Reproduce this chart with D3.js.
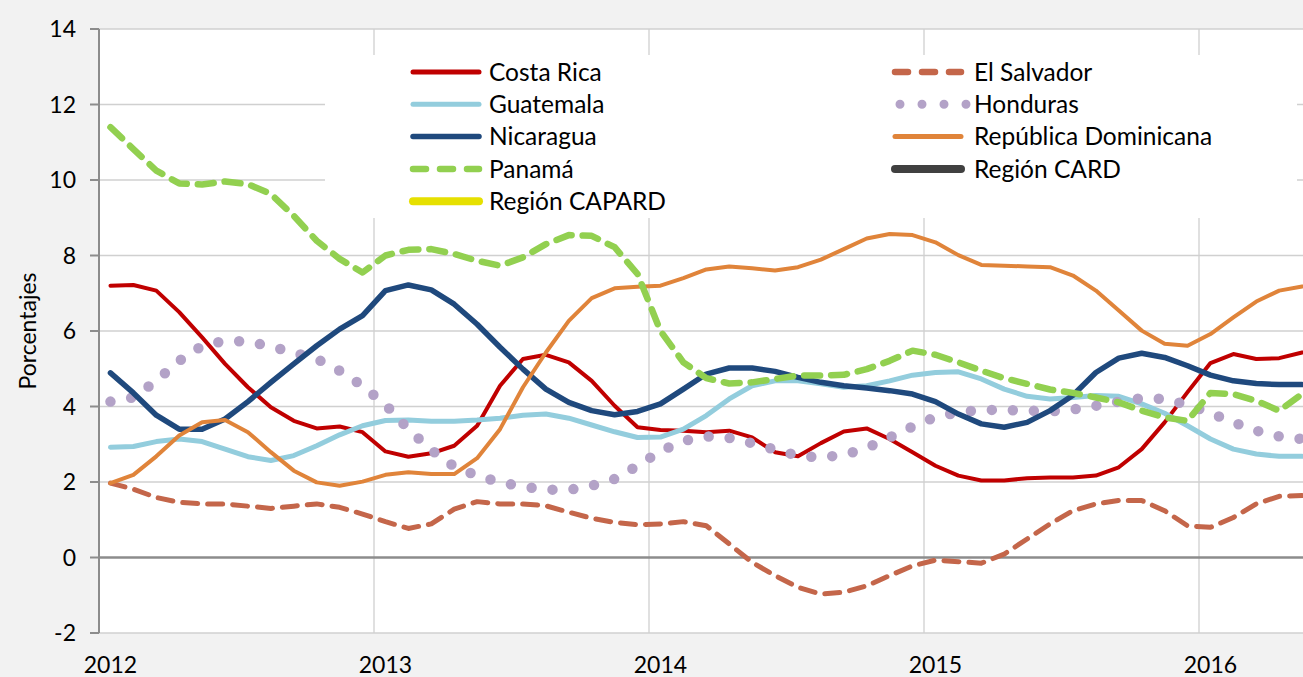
<!DOCTYPE html>
<html>
<head>
<meta charset="utf-8">
<script src="https://cdn.jsdelivr.net/npm/d3@7"></script>
<style>
  html, body { margin: 0; padding: 0; background: #f2f2f2; overflow: hidden; }
  svg { display: block; font-family: Lato, "Open Sans", sans-serif; }
</style>
</head>
<body>
<svg id="chart" width="1303" height="677"></svg>
<script>
// categorias mensuales (ene 2012 - may 2016)
const months = d3.timeMonths(new Date(2012, 0, 1), new Date(2016, 5, 1));
const yearLabels = ["2012", "2013", "2014", "2015", "2016"];
const yTicks = [-2, 0, 2, 4, 6, 8, 10, 12, 14];

const costaRica = [7.20, 7.22, 7.07, 6.50, 5.83, 5.13, 4.51, 3.98, 3.62, 3.42, 3.47, 3.32, 2.81,
  2.67, 2.76, 2.96, 3.49, 4.55, 5.26, 5.37, 5.17, 4.68, 4.02, 3.45,
  3.38, 3.36, 3.32, 3.36, 3.18, 2.79, 2.68, 3.03, 3.34, 3.42, 3.14, 2.79,
  2.43, 2.17, 2.04, 2.04, 2.10, 2.12, 2.12, 2.17, 2.39, 2.87, 3.58, 4.38,
  5.15, 5.39, 5.26, 5.28, 5.43];
const elSalvador = [1.97, 1.81, 1.59, 1.46, 1.42, 1.42, 1.36, 1.30, 1.36, 1.42, 1.33, 1.15, 0.95,
  0.77, 0.89, 1.28, 1.48, 1.42, 1.42, 1.37, 1.20, 1.04, 0.93, 0.87,
  0.89, 0.95, 0.84, 0.36, -0.13, -0.48, -0.79, -0.97, -0.92, -0.75, -0.48, -0.22,
  -0.07, -0.11, -0.15, 0.09, 0.49, 0.89, 1.24, 1.42, 1.51, 1.51, 1.24, 0.84,
  0.80, 1.06, 1.42, 1.62, 1.64];
const guatemala = [2.92, 2.94, 3.07, 3.14, 3.07, 2.87, 2.67, 2.57, 2.70, 2.96, 3.25, 3.49, 3.63,
  3.64, 3.61, 3.61, 3.64, 3.69, 3.77, 3.80, 3.69, 3.51, 3.33, 3.18,
  3.19, 3.40, 3.76, 4.20, 4.55, 4.68, 4.68, 4.60, 4.51, 4.55, 4.68, 4.83,
  4.90, 4.92, 4.73, 4.46, 4.27, 4.20, 4.24, 4.29, 4.27, 4.07, 3.82, 3.49,
  3.14, 2.87, 2.74, 2.68, 2.68];
const honduras = [4.13, 4.24, 4.68, 5.21, 5.61, 5.74, 5.72, 5.59, 5.43, 5.26, 4.95, 4.55, 4.05,
  3.40, 2.85, 2.41, 2.17, 1.99, 1.88, 1.80, 1.79, 1.90, 2.08, 2.43,
  2.82, 3.09, 3.21, 3.17, 3.03, 2.86, 2.70, 2.65, 2.72, 2.90, 3.18, 3.47,
  3.72, 3.85, 3.91, 3.91, 3.89, 3.87, 3.92, 4.02, 4.13, 4.22, 4.20, 4.04,
  3.83, 3.58, 3.36, 3.21, 3.14];
const nicaragua = [4.89, 4.36, 3.77, 3.40, 3.40, 3.67, 4.13, 4.64, 5.13, 5.61, 6.05, 6.41, 7.07,
  7.22, 7.09, 6.71, 6.18, 5.57, 4.99, 4.46, 4.11, 3.89, 3.78, 3.87,
  4.07, 4.46, 4.86, 5.02, 5.02, 4.93, 4.77, 4.64, 4.55, 4.49, 4.42, 4.33,
  4.13, 3.80, 3.54, 3.45, 3.58, 3.89, 4.30, 4.90, 5.28, 5.41, 5.30, 5.08,
  4.83, 4.68, 4.61, 4.58, 4.58];
const repDominicana = [1.97, 2.19, 2.68, 3.23, 3.58, 3.64, 3.32, 2.79, 2.30, 1.99, 1.90, 2.01, 2.19,
  2.26, 2.21, 2.21, 2.63, 3.40, 4.51, 5.43, 6.27, 6.87, 7.13, 7.17,
  7.20, 7.40, 7.63, 7.71, 7.66, 7.60, 7.69, 7.89, 8.17, 8.45, 8.57, 8.54,
  8.35, 8.01, 7.75, 7.73, 7.71, 7.69, 7.47, 7.07, 6.54, 6.01, 5.66, 5.61,
  5.92, 6.36, 6.78, 7.07, 7.18];
const panama = [11.40, 10.82, 10.25, 9.91, 9.88, 9.96, 9.89, 9.63, 9.05, 8.39, 7.91, 7.55, 8.00,
  8.15, 8.17, 8.04, 7.86, 7.73, 7.95, 8.30, 8.54, 8.52, 8.22, 7.51,
  6.00, 5.17, 4.75, 4.61, 4.64, 4.73, 4.82, 4.82, 4.84, 4.99, 5.21, 5.48,
  5.37, 5.17, 4.95, 4.75, 4.60, 4.45, 4.36, 4.24, 4.11, 3.89, 3.71, 3.62,
  4.36, 4.33, 4.15, 3.89, 4.33];
// sin datos visibles en el grafico, solo leyenda
const regionCARD = [];
const regionCAPARD = [];

const series = [
  { name: "Costa Rica", values: costaRica, color: "#c00000", width: 4, dash: null, col: 0, row: 0 },
  { name: "El Salvador", values: elSalvador, color: "#c4664a", width: 5, dash: "15 10", col: 1, row: 0 },
  { name: "Guatemala", values: guatemala, color: "#93cddd", width: 5, dash: null, col: 0, row: 1 },
  { name: "Honduras", values: honduras, color: "#b3a2c7", width: 10.5, dash: "0 21", col: 1, row: 1 },
  { name: "Nicaragua", values: nicaragua, color: "#1f497d", width: 5.5, dash: null, col: 0, row: 2 },
  { name: "República Dominicana", values: repDominicana, color: "#e0843a", width: 4, dash: null, col: 1, row: 2 },
  { name: "Panamá", values: panama, color: "#92d050", width: 6.5, dash: "16 11", col: 0, row: 3 },
  { name: "Región CARD", values: regionCARD, color: "#404040", width: 8, dash: null, col: 1, row: 3 },
  { name: "Región CAPARD", values: regionCAPARD, color: "#e6e000", width: 8, dash: null, col: 0, row: 4 },
];

const svg = d3.select("#chart");
const plotLeft = 99, plotTop = 29, plotBottom = 633;
const monthW = 275 / 12;

const x = d3.scaleBand()
  .domain(months)
  .range([plotLeft, plotLeft + months.length * monthW])
  .paddingInner(0)
  .paddingOuter(0);
const y = d3.scaleLinear().domain([-2, 14]).range([plotBottom, plotTop]);
const cx = (d) => x(d) + x.bandwidth() / 2;

// area del grafico
svg.append("rect")
  .attr("x", plotLeft).attr("y", plotTop)
  .attr("width", 1303 - plotLeft).attr("height", plotBottom - plotTop)
  .attr("fill", "#fff");

// lineas de cuadricula horizontales
svg.append("g")
  .selectAll("line")
  .data(yTicks.filter((t) => t !== 0))
  .join("line")
  .attr("x1", plotLeft).attr("x2", 1303)
  .attr("y1", (d) => y(d)).attr("y2", (d) => y(d))
  .attr("stroke", "#d0d0d0").attr("stroke-width", 1.3);

// lineas verticales en cada enero
const januaries = months.filter((m) => m.getMonth() === 0);
svg.append("g")
  .selectAll("line")
  .data(januaries.slice(1))
  .join("line")
  .attr("x1", (d) => x(d)).attr("x2", (d) => x(d))
  .attr("y1", plotTop).attr("y2", plotBottom)
  .attr("stroke", "#d0d0d0").attr("stroke-width", 1.3);

// recuadro blanco de la leyenda (tapa la cuadricula)
svg.append("rect")
  .attr("x", 325).attr("y", 55)
  .attr("width", 972).attr("height", 163)
  .attr("fill", "#fff");

// linea del cero
svg.append("line")
  .attr("x1", plotLeft).attr("x2", 1303)
  .attr("y1", y(0)).attr("y2", y(0))
  .attr("stroke", "#8c8c8c").attr("stroke-width", 2.5);

// eje y
const yAxis = svg.append("g");
yAxis.append("line")
  .attr("x1", plotLeft).attr("x2", plotLeft)
  .attr("y1", plotTop).attr("y2", plotBottom)
  .attr("stroke", "#8c8c8c").attr("stroke-width", 2);
yAxis.selectAll(".tick")
  .data(yTicks)
  .join("line")
  .attr("class", "tick")
  .attr("x1", 90).attr("x2", plotLeft)
  .attr("y1", (d) => y(d)).attr("y2", (d) => y(d))
  .attr("stroke", "#8c8c8c").attr("stroke-width", 2);
yAxis.selectAll("text")
  .data(yTicks)
  .join("text")
  .attr("x", 76)
  .attr("y", (d) => y(d))
  .attr("dy", "0.36em")
  .attr("text-anchor", "end")
  .attr("font-size", 23)
  .attr("fill", "#000")
  .text((d) => d);

svg.append("text")
  .attr("transform", `translate(36,${(plotTop + plotBottom) / 2}) rotate(-90)`)
  .attr("text-anchor", "middle")
  .attr("font-size", 23)
  .text("Porcentajes");

// etiquetas eje x
svg.append("g")
  .selectAll("text")
  .data(januaries)
  .join("text")
  .attr("x", (d) => cx(d))
  .attr("y", 673)
  .attr("text-anchor", "middle")
  .attr("font-size", 23)
  .text((d, i) => yearLabels[i]);

// series
const line = d3.line()
  .x((d, i) => cx(months[i]))
  .y((d) => y(d));

svg.append("g")
  .selectAll("path")
  .data(series.filter((s) => s.values.length))
  .join("path")
  .attr("d", (s) => line(s.values))
  .attr("fill", "none")
  .attr("stroke", (s) => s.color)
  .attr("stroke-width", (s) => s.width)
  .attr("stroke-dasharray", (s) => s.dash)
  .attr("stroke-linecap", "round")
  .attr("stroke-linejoin", "round");

// leyenda
const legendCols = [411, 893];
const legendTextX = [78, 81];
const legend = svg.append("g")
  .selectAll("g")
  .data(series)
  .join("g")
  .attr("transform", (s) => `translate(${legendCols[s.col]},${72 + s.row * 32.3})`);

legend.append("line")
  .attr("x1", (s) => (s.dash === "0 21" ? 7 : 2))
  .attr("x2", (s) => (s.dash === "0 21" ? 75 : 68))
  .attr("y1", 0).attr("y2", 0)
  .attr("stroke", (s) => s.color)
  .attr("stroke-width", (s) => (s.dash === "0 21" ? 9 : s.dash ? 6.5 : Math.max(s.width, 5)))
  .attr("stroke-dasharray", (s) => (s.dash === "0 21" ? "0 22" : s.dash ? "13 14" : null))
  .attr("stroke-linecap", "round");

legend.append("text")
  .attr("x", (s) => legendTextX[s.col])
  .attr("dy", "0.36em")
  .attr("font-size", 24.5)
  .text((s) => s.name);
</script>
</body>
</html>
